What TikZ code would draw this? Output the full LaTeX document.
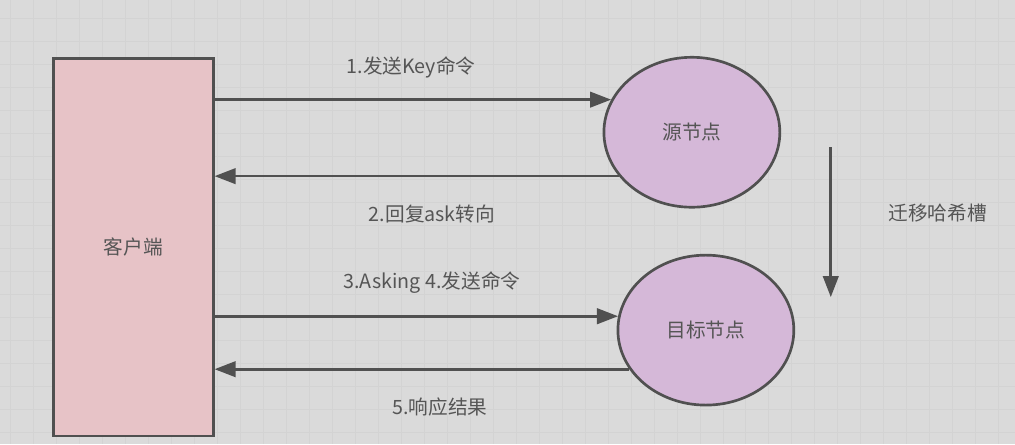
\documentclass[tikz,border=0pt]{standalone}
\usepackage{fontspec}
\setmainfont{Noto Sans CJK SC}
\usepackage{xcolor}
\usepackage{tikz}
\usetikzlibrary{calc, arrows.meta, shapes.geometric}

\definecolor{bgGray}{HTML}{DADADA}
\definecolor{gridGray}{HTML}{D3D3D3}
\definecolor{lineGray}{HTML}{505050}
\definecolor{textGray}{HTML}{555555}
\definecolor{clientPink}{HTML}{E7C3C7}
\definecolor{nodePurple}{HTML}{D5B8D8}

\tikzset{
    box/.style={rectangle, draw=lineGray, line width=1.9pt, fill=clientPink, minimum width=4cm, minimum height=9.45cm, text=textGray},
    server/.style={ellipse, draw=lineGray, line width=1.9pt, fill=nodePurple, minimum width=4.4cm, minimum height=3.75cm, inner sep=0pt, text=textGray},
    msg/.style={text=textGray, inner sep=0pt},
    flow/.style={draw=lineGray, line width=1.9pt, -{Triangle[length=15pt, width=11pt]}}
}

\begin{document}
\begin{tikzpicture}[x=0.025cm, y=-0.025cm, font=\fontsize{14}{17}\selectfont]

        %% Background
        \fill [bgGray] (0,0) rectangle (1015,444);
        \foreach \gx in {10,33,...,1015} \draw [gridGray, line width=0.5pt] (\gx,0) -- (\gx,444);
        \foreach \gy in {18,41,...,444} \draw [gridGray, line width=0.5pt] (0,\gy) -- (1015,\gy);
        \useasboundingbox (0,0) rectangle (1015,444);

        %% Client and servers
        \node (client) [box] at (133,247) {客户端};
        \node (source) [server] at (692,132) {源节点};
        \node (target) [server] at (706,330) {目标节点};

        %% Arrows
        \draw [flow] (client.east |- source.158) -- (source.158);
        \draw [flow] (source.211) -- (client.east |- source.211);
        \draw [flow] (client.east |- target.171) -- (target.171);
        \draw [flow] (target.207) -- (client.east |- target.207);

        %% Slot migration
        \coordinate (migTop) at (831,147);
        \coordinate (migBottom) at (831,297);
        \draw [flow] (migTop) -- (migBottom);

        %% Labels
        \node (sendKey) [msg] at (411,67) {1.发送Key命令};
        \node (askReply) [msg] at (432,214) {2.回复ask转向};
        \node (asking) [msg] at (432,282) {3.Asking 4.发送命令};
        \node (result) [msg] at (440,407) {5.响应结果};
        \node (migrate) [msg] at (938,213) {迁移哈希槽};

    \end{tikzpicture}
\end{document}
